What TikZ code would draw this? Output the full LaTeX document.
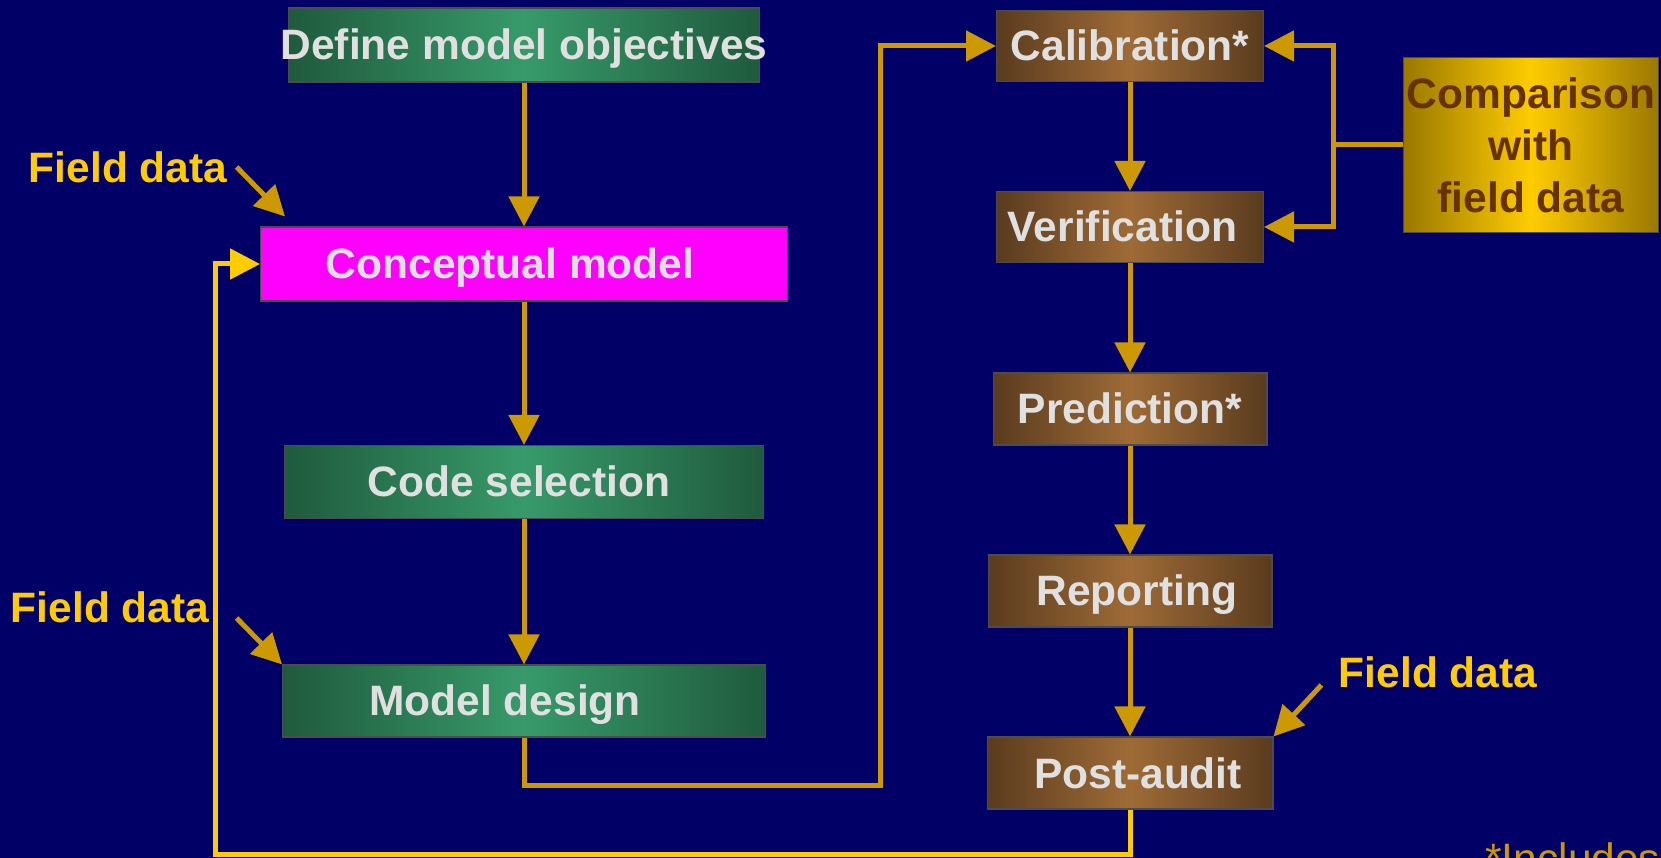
\documentclass[tikz,border=0pt]{standalone}
\usepackage{fontspec}
\setmainfont{Liberation Sans}
\usetikzlibrary{arrows.meta}

\definecolor{navy}{HTML}{000066}
\definecolor{greendark}{HTML}{1F5A3D}
\definecolor{greenlight}{HTML}{379A6A}
\definecolor{browndark}{HTML}{5A3B1E}
\definecolor{brownlight}{HTML}{9E6B36}
\definecolor{golddark}{HTML}{9A7800}
\definecolor{goldlight}{HTML}{FFCC00}
\definecolor{pinkbox}{HTML}{FF00FF}
\definecolor{linkgold}{HTML}{CC9900}
\definecolor{loopgold}{HTML}{FFCC00}
\definecolor{boxtext}{HTML}{E0E0E0}
\definecolor{comptext}{HTML}{663300}

\begin{document}
\begin{tikzpicture}[
    x=0.02cm, y=-0.02cm,
    box/.style={draw=black!70, line width=0.6pt, rectangle, inner sep=0pt},
    boxlabel/.style={inner sep=0pt, text=boxtext, text height=0.6cm, text depth=0cm,
        font=\fontsize{24.2}{29}\selectfont\bfseries},
    greenbox/.style={box, left color=greendark, right color=greendark, middle color=greenlight},
    brownbox/.style={box, left color=browndark, right color=browndark, middle color=brownlight},
    goldbox/.style={box, left color=golddark, right color=golddark, middle color=goldlight,
        text=comptext, align=center, font=\fontsize{24.2}{29.5}\selectfont\bfseries},
    fieldlabel/.style={inner sep=0pt, text=loopgold, font=\fontsize{24.2}{29}\selectfont\bfseries},
    link/.style={-{Triangle[length=0.6cm, width=0.6cm]}, line width=0.1cm, draw=linkgold},
    plain/.style={line width=0.1cm, draw=linkgold},
    loop/.style={-{Triangle[length=0.6cm, width=0.6cm]}, line width=0.1cm, draw=loopgold}
]

% Background
\useasboundingbox (0,0) rectangle (1661,858);
\fill[navy] (0,0) rectangle (1661,858);
\clip (0,0) rectangle (1661,858);

% Model building
\node[greenbox, minimum width=9.42cm, minimum height=1.48cm,
    label={[boxlabel]center:Define model objectives}] (define) at (524,45) {};
\node[box, fill=pinkbox, minimum width=10.54cm, minimum height=1.48cm,
    label={[boxlabel, xshift=-0.28cm]center:Conceptual model}] (concept) at (524,264) {};
\node[greenbox, minimum width=9.58cm, minimum height=1.46cm,
    label={[boxlabel, xshift=-0.1cm]center:Code selection}] (code) at (524,482) {};
\node[greenbox, minimum width=9.66cm, minimum height=1.44cm,
    label={[boxlabel, xshift=-0.38cm]center:Model design}] (design) at (524,701) {};

% Model use
\node[brownbox, minimum width=5.34cm, minimum height=1.42cm,
    label={[boxlabel]center:Calibration*}] (calib) at (1130,46) {};
\node[brownbox, minimum width=5.34cm, minimum height=1.42cm,
    label={[boxlabel, xshift=-0.15cm]center:Verification}] (verif) at (1130,227) {};
\node[brownbox, minimum width=5.48cm, minimum height=1.44cm,
    label={[boxlabel]center:Prediction*}] (pred) at (1130,409) {};
\node[brownbox, minimum width=5.68cm, minimum height=1.44cm,
    label={[boxlabel, xshift=0.14cm]center:Reporting}] (report) at (1130,591) {};
\node[brownbox, minimum width=5.72cm, minimum height=1.44cm,
    label={[boxlabel, xshift=0.16cm]center:Post-audit}] (audit) at (1130,773) {};

\node[goldbox, minimum width=5.1cm, minimum height=3.5cm] (comp) at (1531,145) {Comparison\\with\\field data};

% Field data
\node[fieldlabel] (fd1) at (128,167) {Field data};
\node[fieldlabel] (fd2) at (110,607) {Field data};
\node[fieldlabel] (fd3) at (1438,672) {Field data};
\node[anchor=base west, inner sep=0pt, text=linkgold, font=\fontsize{24.2}{29}\selectfont] (note) at (1485,873) {*Includes};

% Bends
\coordinate (b1) at (880,785);
\coordinate (b2) at (215,854);
\coordinate (b3) at (1333,145);

% Flow
\draw[link] (define) -- (concept);
\draw[link] (concept) -- (code);
\draw[link] (code) -- (design);
\draw[link] (design.south) |- (b1) |- (calib.west);
\draw[link] (calib) -- (verif);
\draw[link] (verif) -- (pred);
\draw[link] (pred) -- (report);
\draw[link] (report) -- (audit);
\draw[loop] (audit.south) |- (b2) |- (concept.west);

% Comparison
\draw[plain] (comp.west) -- (b3);
\draw[link] (b3) |- (calib.east);
\draw[link] (b3) |- (verif.east);

% Field data arrows
\draw[link] ([xshift=0.18cm]fd1.east) -- ([xshift=0.5cm, yshift=0.2cm]concept.north west);
\draw[link] ([xshift=0.54cm, yshift=-0.22cm]fd2.east) -- (design.north west);
\draw[link] ([xshift=-0.34cm, yshift=-0.26cm]fd3.west) -- (audit.north east);

\end{tikzpicture}
\end{document}
